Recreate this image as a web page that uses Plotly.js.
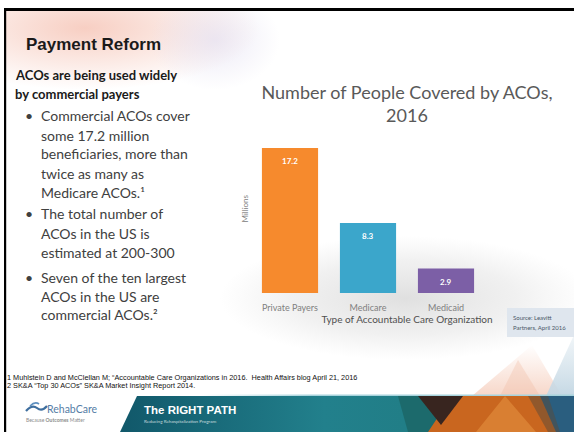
<!DOCTYPE html>
<html>
<head>
<meta charset="utf-8">
<script src="https://cdn.plot.ly/plotly-3.0.1.min.js"></script>
<style>
html,body{margin:0;padding:0;background:#fff;}
#chart{width:574px;height:432px;}
</style>
</head>
<body>
<div id="chart"></div>
<script>
// ---- data ----
const categories = ['Private Payers', 'Medicare', 'Medicaid'];
const millionsCovered = [17.2, 8.3, 2.9];
const barColors = ['#F68A2D', '#3BA6CB', '#7C5FA6'];
const chartTitleLines = ['Number of People Covered by ACOs,', '2016'];
const xTitle = 'Type of Accountable Care Organization';
const yTitle = 'Millions';
const slideHeading = 'Payment Reform';
const subHeading = ['ACOs are being used widely', 'by commercial payers'];
const bullets = [
  ['Commercial ACOs cover', 'some 17.2 million', 'beneficiaries, more than', 'twice as many as', 'Medicare ACOs.¹'],
  ['The total number of', 'ACOs in the US is', 'estimated at 200-300'],
  ['Seven of the ten largest', 'ACOs in the US are', 'commercial ACOs.²']
];
const footnotes = [
  '1 Muhlstein D and McClellan M; “Accountable Care Organizations in 2016.  Health Affairs blog April 21, 2016',
  '2 SK&A “Top 30 ACOs” SK&A Market Insight Report 2014.'
];
const sourceLines = ['Source: Leavitt', 'Partners, April 2016'];

// ---- helpers ----
const W = 574, H = 432;
const px = x => x / W;
const py = y => 1 - y / H;
function note(x, y, text, font, extra) {
  return Object.assign({xref:'paper', yref:'paper', x:px(x), y:py(y), text:text,
    showarrow:false, xanchor:'left', yanchor:'middle', font:font, borderpad:0}, extra||{});
}

// ---- decorative background (svg) ----
const svg = `<svg xmlns='http://www.w3.org/2000/svg' width='574' height='432' viewBox='0 0 574 432' preserveAspectRatio='none'>
<defs>
<radialGradient id='tl' cx='0.5' cy='0.5' r='0.5'>
<stop offset='0' stop-color='#f6c6b8' stop-opacity='0.85'/>
<stop offset='1' stop-color='#f6c6b8' stop-opacity='0'/></radialGradient>
<radialGradient id='tl2' cx='0.5' cy='0.5' r='0.5'>
<stop offset='0' stop-color='#e0dcf0' stop-opacity='0.6'/>
<stop offset='1' stop-color='#e0dcf0' stop-opacity='0'/></radialGradient>
<radialGradient id='floor' cx='0.5' cy='0.5' r='0.5'>
<stop offset='0' stop-color='#dcdcdc' stop-opacity='0.9'/>
<stop offset='0.6' stop-color='#e2e2e2' stop-opacity='0.5'/>
<stop offset='1' stop-color='#e6e6e6' stop-opacity='0'/></radialGradient>
<linearGradient id='ban' x1='0' y1='0' x2='1' y2='0'>
<stop offset='0' stop-color='#11586a'/>
<stop offset='0.45' stop-color='#22808c'/>
<stop offset='1' stop-color='#1f7a7c'/></linearGradient>
<linearGradient id='peach' x1='0' y1='0' x2='0' y2='1'>
<stop offset='0' stop-color='#f4c6b2' stop-opacity='0'/>
<stop offset='1' stop-color='#f4c6b2' stop-opacity='0.7'/></linearGradient>
<linearGradient id='blue' x1='0' y1='0' x2='0' y2='1'>
<stop offset='0' stop-color='#cfdfe9' stop-opacity='0.3'/>
<stop offset='1' stop-color='#c5d8e4' stop-opacity='1'/></linearGradient>
<linearGradient id='lineg' x1='0' y1='0' x2='1' y2='0'>
<stop offset='0' stop-color='#a7d3dc' stop-opacity='0'/>
<stop offset='0.3' stop-color='#a7d3dc' stop-opacity='1'/>
<stop offset='1' stop-color='#a7d3dc' stop-opacity='1'/></linearGradient>
<clipPath id='slide'><rect x='6' y='11' width='568' height='421'/></clipPath>
</defs>
<rect width='574' height='432' fill='#ffffff'/>
<g clip-path='url(#slide)'>
<ellipse cx='85' cy='28' rx='175' ry='62' fill='url(#tl)'/>
<ellipse cx='215' cy='40' rx='65' ry='50' fill='url(#tl2)'/>
<ellipse cx='405' cy='298' rx='185' ry='62' fill='url(#floor)'/>
<polygon points='532,345 472,396 562,396' fill='url(#peach)'/>
<polygon points='518,360 500,396 540,396' fill='#f0b59c' fill-opacity='0.3'/>
<polygon points='574,335 546,396 574,396' fill='url(#blue)'/>
<rect x='507' y='308' width='67' height='29' fill='#dfe6ee'/>
<polygon points='137,396 574,396 574,432 120,432' fill='url(#ban)'/>
<polygon points='398,396 430,396 440,432 408,432' fill='#1c6a6c'/>
<polygon points='452,396 550,396 574,432 428,432' fill='#c9661f'/>
<polygon points='476,432 505,396 536,432' fill='#e08a3a' fill-opacity='0.7'/>
<polygon points='418,396 463,396 441,425' fill='#38251f'/>
<polygon points='540,396 574,396 574,432 556,432' fill='#2a5e7f'/>
<polygon points='528,396 548,396 560,432 548,432' fill='#5a4a3a' fill-opacity='0.5'/>
<rect x='200' y='394.5' width='374' height='1.5' fill='url(#lineg)'/>
</g>
<path d='M26,411 q6,-7 11,-3 t10,-2' stroke='#3f6f9f' stroke-width='2.2' fill='none'/>
<path d='M30,406 q5,-5 9,-2' stroke='#5d8fbf' stroke-width='1.6' fill='none'/>
<rect x='4' y='8' width='570' height='3' fill='#000'/>
<rect x='4' y='8' width='2.2' height='424' fill='#000'/>
</svg>`;
const bgSource = 'data:image/svg+xml;charset=utf-8,' + encodeURIComponent(svg);

// ---- traces ----
const trace = {
  type: 'bar',
  x: categories,
  y: millionsCovered,
  marker: {color: barColors, line: {width: 0}},
  hoverinfo: 'skip'
};

// ---- annotations ----
const ann = [];
categories.forEach((c, i) => {
  ann.push({xref:'x', yref:'y', x:c, y:millionsCovered[i], text:'<b>' + millionsCovered[i].toFixed(1) + '</b>',
    showarrow:false, yshift:-13, font:{family:'Lato', size:8, color:'#ffffff'}});
});
ann.push(note(25, 45, '<b>' + slideHeading + '</b>', {family:'Liberation Sans', size:17, color:'#1a1a1a'}));
const subY = [75, 94];
subHeading.forEach((t, i) => ann.push(note(14, subY[i], '<b>' + t + '</b>', {family:'Lato', size:13, color:'#1a1a1a'})));
const bulletY = [[115, 135, 154, 173, 192], [213, 233, 252], [277, 296, 314]];
const bFont = {family:'Lato', size:14, color:'#404040'};
bullets.forEach((lines, b) => {
  ann.push(note(24, bulletY[b][0], '•', bFont));
  lines.forEach((t, i) => ann.push(note(40, bulletY[b][i], t, bFont)));
});
const fnY = [377, 385];
footnotes.forEach((t, i) => ann.push(note(6, fnY[i], t, {family:'Liberation Sans', size:7.3, color:'#111111'})));
const srcY = [317, 327];
sourceLines.forEach((t, i) => ann.push(note(512, srcY[i], t, {family:'Lato', size:6, color:'#4a5868'})));
ann.push(note(46, 409, 'RehabCare', {family:'Lato', size:10.5, color:'#557da6'}));
ann.push(note(25, 420, 'Because <b>Outcomes</b> Matter', {family:'Lato', size:5, color:'#8c8c8c'}));
ann.push(note(143, 410, '<b>The RIGHT PATH</b>', {family:'Liberation Sans', size:11.5, color:'#ffffff'}));
ann.push(note(143, 421, 'Reducing Rehospitalization Program', {family:'Lato', size:4.6, color:'rgba(255,255,255,0.75)'}));

const layout = {
  width: W, height: H, autosize: false,
  margin: {l:0, r:0, t:0, b:0, pad:0},
  paper_bgcolor: '#ffffff', plot_bgcolor: 'rgba(0,0,0,0)',
  showlegend: false,
  bargap: 0.28,
  title: {text: chartTitleLines.join('<br>'), font:{family:'Lato', size:18, color:'#595959'},
    x: 407/W, xanchor:'center', xref:'paper', y: 1 - 99/H, yanchor:'top', yref:'container'},
  xaxis: {domain:[251/W, 563/W], range:[-0.5, 3.5], type:'category', showgrid:false, zeroline:false,
    showline:false, ticks:'', tickfont:{family:'Lato', size:9, color:'#808080'}, ticklabelstandoff:8,
    title:{text:xTitle, font:{family:'Lato', size:10, color:'#505050'}, standoff:3}, fixedrange:true},
  yaxis: {domain:[1 - 293/H, 1 - 124.4/H], range:[0, 20], showgrid:false, zeroline:false, showline:false,
    ticks:'', showticklabels:false, title:{text:yTitle, font:{family:'Lato', size:8, color:'#808080'}, standoff:0},
    fixedrange:true},
  images: [{source:bgSource, xref:'paper', yref:'paper', x:0, y:1, sizex:1, sizey:1,
    xanchor:'left', yanchor:'top', sizing:'stretch', layer:'below'}],
  annotations: ann
};

Plotly.newPlot('chart', [trace], layout, {staticPlot:true, displayModeBar:false});
</script>
</body>
</html>
